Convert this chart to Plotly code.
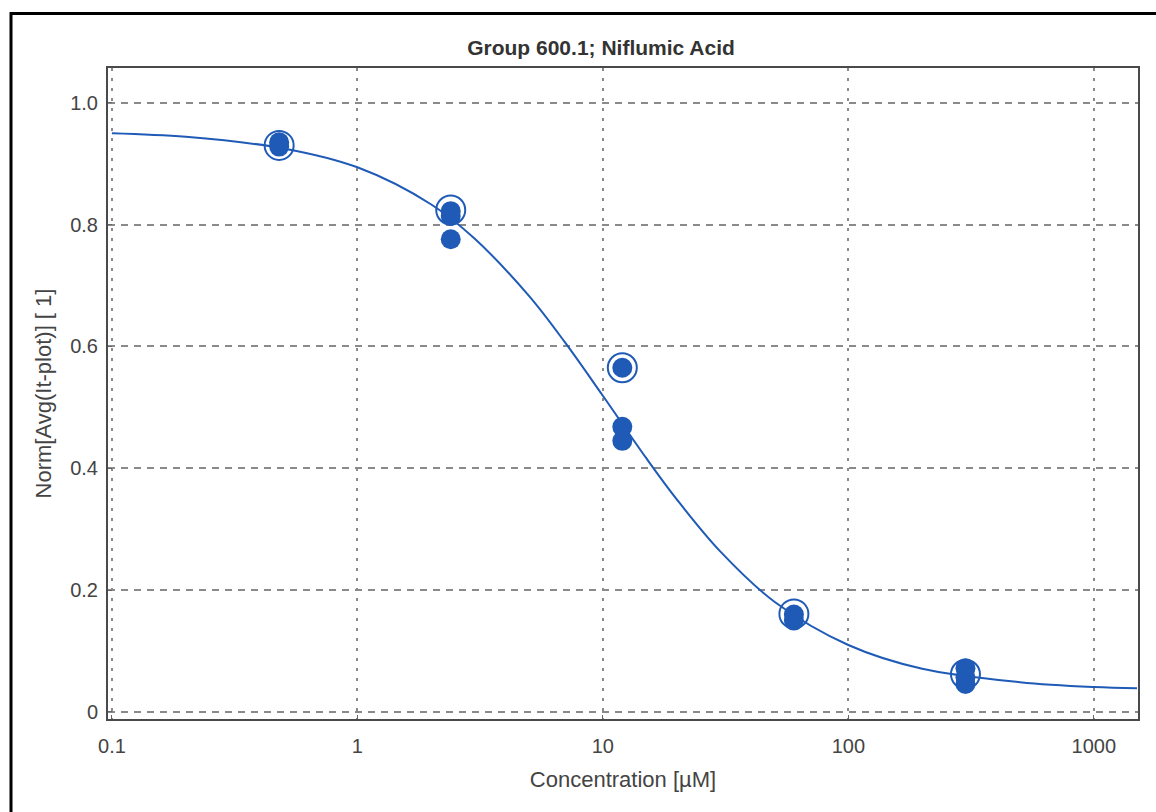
import plotly.graph_objects as go

# ---- data ----
conc_filled = [0.48, 0.48, 2.4, 2.4, 2.4, 12, 12, 12, 60, 60, 300, 300, 300]
resp_filled = [0.935, 0.928, 0.822, 0.814, 0.776, 0.565, 0.468, 0.445, 0.160, 0.150, 0.072, 0.057, 0.046]

conc_ring = [0.48, 2.4, 12, 60, 300]
resp_ring = [0.930, 0.824, 0.565, 0.161, 0.062]

curve_x = [0.1, 0.2, 0.5, 1, 2, 3, 5, 7, 10, 15, 20, 30, 50, 100, 200, 500, 1000, 1500]
curve_y = [0.950, 0.944, 0.925, 0.894, 0.833, 0.777, 0.683, 0.607, 0.519, 0.417, 0.349,
           0.264, 0.181, 0.110, 0.071, 0.049, 0.041, 0.039]

x_tickvals = [0.1, 1, 10, 100, 1000]
x_ticktext = ["0.1", "1", "10", "100", "1000"]
y_tickvals = [0, 0.2, 0.4, 0.6, 0.8, 1.0]
y_ticktext = ["0", "0.2", "0.4", "0.6", "0.8", "1.0"]

BLUE = "#1f5bb6"
FONT = "Liberation Sans, Arial, sans-serif"

fig = go.Figure()
fig.add_trace(go.Scatter(x=curve_x, y=curve_y, mode="lines",
                         line=dict(color=BLUE, width=2, shape="spline"),
                         hoverinfo="skip", showlegend=False))
fig.add_trace(go.Scatter(x=conc_ring, y=resp_ring, mode="markers",
                         marker=dict(symbol="circle-open", size=29, color=BLUE,
                                     line=dict(color=BLUE, width=2)),
                         showlegend=False))
fig.add_trace(go.Scatter(x=conc_filled, y=resp_filled, mode="markers",
                         marker=dict(symbol="circle", size=20, color=BLUE,
                                     line=dict(width=0)),
                         showlegend=False))

L, R, T, B = 108, 18, 68, 93
W, H = 1156, 812
pw, ph = W - L - R, H - T - B

def px_x(px):
    return (px - L) / pw

def px_y(py):
    return (H - B - py) / ph

fig.update_layout(
    width=W, height=H,
    margin=dict(l=L, r=R, t=T, b=B),
    paper_bgcolor="white", plot_bgcolor="white",
    font=dict(family=FONT, color="#444444", size=20),
    title=dict(text="<b>Group 600.1; Niflumic Acid</b>", xref="container", x=601 / W,
               xanchor="center", yref="container", y=1 - 48 / H, yanchor="middle",
               font=dict(family=FONT, size=21, color="#333333")),
    xaxis=dict(type="log", range=[-1.016, 3.18],
               tickvals=x_tickvals, ticktext=x_ticktext,
               showgrid=True, gridcolor="#8a8a8a", gridwidth=1.5, griddash="3px,7px",
               showline=True, linecolor="#4a4a4a", linewidth=2, mirror=True,
               ticks="inside", ticklen=4, tickcolor="#666666",
               zeroline=False, ticklabelstandoff=8,
               tickfont=dict(size=20, color="#444444"),
               title=dict(text="Concentration [µM]", font=dict(size=22, color="#444444"),
                          standoff=16)),
    yaxis=dict(range=[-0.0115, 1.057],
               tickvals=y_tickvals, ticktext=y_ticktext,
               showgrid=True, gridcolor="#8a8a8a", gridwidth=1.5, griddash="7px,6px",
               showline=True, linecolor="#4a4a4a", linewidth=2, mirror=True,
               ticks="inside", ticklen=4, tickcolor="#666666",
               zeroline=False, ticklabelstandoff=4,
               tickfont=dict(size=20, color="#444444"),
               title=dict(text="Norm[Avg(It-plot)] [ 1]", font=dict(size=22, color="#444444"),
                          standoff=12)),
)

# outer black frame (cut off at right and bottom as in the reference)
fig.add_shape(type="rect", xref="paper", yref="paper",
              x0=px_x(11), x1=px_x(1200), y0=px_y(860), y1=px_y(13.5),
              line=dict(color="black", width=3), fillcolor="rgba(0,0,0,0)", layer="above")

fig.write_html("out.html")
